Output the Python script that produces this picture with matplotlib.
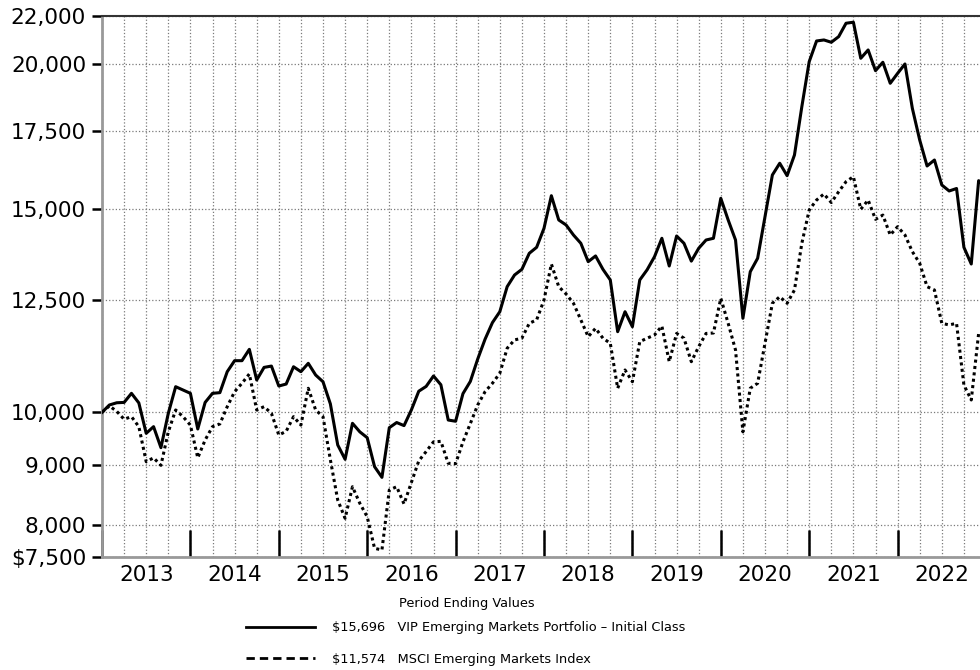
import matplotlib
matplotlib.use("Agg")
import matplotlib.pyplot as plt
import matplotlib.ticker as mticker
from matplotlib.lines import Line2D

# monthly values, Dec 2012 .. Dec 2022
fund = [10000, 10148, 10193, 10200, 10386, 10190, 9592, 9720, 9322, 9981,
        10524, 10455, 10386, 9675, 10200, 10386, 10400, 10843, 11083, 11083,
        11336, 10665, 10936, 10965, 10538, 10580, 10950, 10843, 11025, 10772,
        10628, 10170, 9372, 9109, 9785, 9620, 9509, 8976, 8788, 9700,
        9800, 9740, 10050, 10430, 10530, 10751, 10565, 9849, 9825, 10380,
        10635, 11118, 11567, 11955, 12217, 12841, 13142, 13292, 13722, 13887,
        14422, 15388, 14663, 14517, 14231, 13998, 13496, 13650, 13292, 13013,
        11741, 12217, 11858, 13013, 13280, 13630, 14138, 13380, 14203, 13998,
        13510, 13860, 14090, 14138, 15308, 14663, 14090, 12058, 13228, 13587,
        14758, 16035, 16414, 16013, 16686, 18370, 20090, 20934, 20976, 20880,
        21115, 21685, 21730, 20225, 20563, 19733, 20066, 19244, 19627, 19998,
        18311, 17191, 16325, 16520, 15720, 15533, 15610, 13887, 13433, 15855,
        15696]
index = [10000, 10130, 10020, 9865, 9915, 9720, 9066, 9135, 9000, 9620,
         10048, 9915, 9750, 9135, 9465, 9720, 9773, 10114, 10420, 10596,
         10794, 10048, 10114, 9981, 9560, 9630, 9915, 9750, 10491, 10048,
         9915, 9100, 8400, 8100, 8625, 8345, 8125, 7631, 7605, 8570,
         8625, 8334, 8700, 9080, 9250, 9430, 9440, 9037, 9030, 9430,
         9780, 10148, 10420, 10596, 10809, 11360, 11550, 11590, 11938, 12020,
         12504, 13433, 12841, 12655, 12424, 12020, 11625, 11820, 11590, 11473,
         10491, 10880, 10628, 11510, 11590, 11664, 11873, 11061, 11700, 11590,
         11061, 11396, 11700, 11710, 12547, 11938, 11321, 9620, 10491, 10596,
         11473, 12424, 12587, 12424, 12756, 13998, 14957, 15256, 15441, 15180,
         15510, 15823, 15982, 14978, 15256, 14681, 14806, 14231, 14468, 14231,
         13768, 13453, 12841, 12756, 11938, 11900, 11938, 10560, 10250, 11700,
         11574]
years = [2013, 2014, 2015, 2016, 2017, 2018, 2019, 2020, 2021, 2022]
yticks = [7500, 8000, 9000, 10000, 12500, 15000, 17500, 20000, 22000]
fund_name = "VIP Emerging Markets Portfolio \u2013 Initial Class"
index_name = "MSCI Emerging Markets Index"

months = list(range(len(fund)))

fig = plt.figure(figsize=(9.8, 6.7), dpi=100)
# right edge runs a little past the picture, as in the original
ax = fig.add_axes([102 / 980, 113 / 670, 884 / 980, 541 / 670])

ax.plot(months, fund, color="black", lw=2.2, zorder=3)
ax.plot(months, index, color="black", lw=2.2, ls=(0, (1, 1.1)), zorder=3)

ax.set_yscale("log")
ax.set_ylim(7500, 22000)
ax.set_xlim(0, 120)
ax.set_yticks(yticks)
ax.set_yticklabels([("$" if v == yticks[0] else "") + f"{v:,}" for v in yticks])
ax.yaxis.set_minor_locator(mticker.NullLocator())

# quarter grid, long ticks only on year boundaries
ax.xaxis.remove_overlapping_locs = False
ax.set_xticks(range(0, 121, 3))
ax.set_xticklabels([])
ax.tick_params(axis="x", which="major", direction="in", length=19.5, width=1.8, color="black")
for t, pos in zip(ax.xaxis.get_major_ticks(), range(0, 121, 3)):
    if pos % 12 != 0:
        t.tick1line.set_markersize(0)
ax.set_xticks([6 + 12 * k for k in range(len(years))], minor=True)
ax.set_xticklabels([str(y) for y in years], minor=True)
ax.tick_params(axis="x", which="minor", length=0, pad=6, labelsize=15.5)
ax.tick_params(axis="y", direction="out", length=7.5, width=1.8, pad=4, labelsize=15.5, color="black")

ax.grid(True, which="major", ls=":", color="#7a7a7a", lw=0.9, zorder=0)

for side in ["left", "bottom"]:
    ax.spines[side].set_color("#999999")
    ax.spines[side].set_linewidth(2)
ax.spines["top"].set_color("#333333")
ax.spines["top"].set_linewidth(1.5)
ax.spines["right"].set_visible(False)

fig.text(467 / 980, 1 - 603 / 670, "Period Ending Values", ha="center", va="center", fontsize=9.3)
handles = [Line2D([], [], color="black", lw=2),
           Line2D([], [], color="black", lw=2, ls=(0, (3, 1.8)))]
labels = [f"${fund[-1]:,}   {fund_name}", f"${index[-1]:,}   {index_name}"]
leg = fig.legend(handles, labels, loc="upper left", bbox_to_anchor=(240 / 980, 1 - 615 / 670),
                 frameon=False, fontsize=9.3, handlelength=5.3, handletextpad=1.3,
                 labelspacing=1.4, borderpad=0)

fig.savefig("out.png", dpi=100)
